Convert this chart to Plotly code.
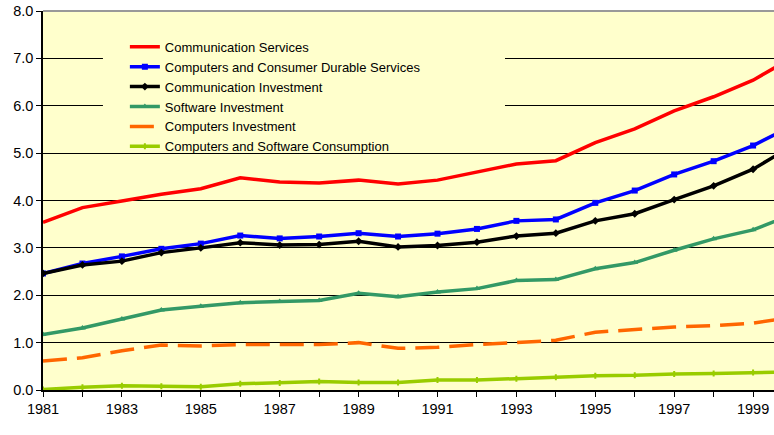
import plotly.graph_objects as go

years = list(range(1981, 2001))

comm_services = [3.54, 3.85, 3.99, 4.13, 4.25, 4.48, 4.39, 4.37, 4.43, 4.35,
                 4.43, 4.60, 4.77, 4.84, 5.22, 5.51, 5.89, 6.19, 6.54, 7.02]
comp_durable = [2.46, 2.67, 2.82, 2.98, 3.09, 3.26, 3.20, 3.24, 3.31, 3.24,
                3.30, 3.40, 3.57, 3.60, 3.95, 4.21, 4.55, 4.83, 5.16, 5.58]
comm_invest = [2.46, 2.64, 2.72, 2.90, 3.00, 3.11, 3.06, 3.07, 3.14, 3.02,
               3.05, 3.12, 3.25, 3.31, 3.57, 3.72, 4.02, 4.31, 4.66, 5.16]
soft_invest = [1.17, 1.31, 1.50, 1.69, 1.77, 1.84, 1.87, 1.89, 2.04, 1.97,
               2.07, 2.14, 2.31, 2.33, 2.56, 2.69, 2.95, 3.19, 3.38, 3.71]
comp_invest = [0.61, 0.68, 0.83, 0.95, 0.93, 0.96, 0.96, 0.96, 1.00, 0.88,
               0.90, 0.96, 1.00, 1.05, 1.22, 1.27, 1.33, 1.36, 1.41, 1.54]
comp_soft_cons = [0.01, 0.06, 0.09, 0.08, 0.07, 0.13, 0.15, 0.18, 0.16, 0.16,
                  0.21, 0.21, 0.24, 0.27, 0.30, 0.31, 0.34, 0.35, 0.37, 0.38]

y_ticks = [0, 1, 2, 3, 4, 5, 6, 7, 8]

BG = "#FFFFCC"

series = [
    ("Communication Services", comm_services, "#FF0000", "solid", None, 0),
    ("Computers and Consumer Durable Services", comp_durable, "#0000FF", "solid", "square", 6),
    ("Communication Investment", comm_invest, "#000000", "solid", "diamond", 6),
    ("Software Investment", soft_invest, "#339966", "solid", "triangle-up", 6),
    ("Computers Investment", comp_invest, "#FF6600", "dash", None, 0),
    ("Computers and Software Consumption", comp_soft_cons, "#99CC00", "solid", "cross", 5),
]

fig = go.Figure()
for name, vals, color, dash, symbol, msize in series:
    fig.add_trace(go.Scatter(
        x=years, y=vals, name=name,
        mode="lines+markers" if symbol else "lines",
        line=dict(color=color, width=3.5, dash="24px,10px" if dash == "dash" else dash),
        marker=dict(symbol=symbol or "circle", size=msize, color=color),
    ))

# yellow patch behind the legend hides the gridlines like the original
fig.add_shape(type="rect", xref="paper", yref="paper",
              x0=0.082, x1=0.632, y0=0.66, y1=0.945,
              fillcolor=BG, line_width=0, layer="above")
fig.add_shape(type="line", xref="paper", yref="paper",
              x0=0, x1=1, y0=1, y1=1, line=dict(color="#999999", width=2))

fig.update_layout(
    width=774, height=435,
    paper_bgcolor="white", plot_bgcolor=BG,
    margin=dict(l=43, r=0, t=11, b=45),
    font=dict(family="Liberation Sans, Arial", color="black", size=14),
    showlegend=True,
    legend=dict(x=0.112, y=0.945, xanchor="left", yanchor="top",
                bgcolor="rgba(0,0,0,0)", font=dict(size=13),
                tracegroupgap=0, itemwidth=30),
)
fig.update_xaxes(range=[1981, 1999.53], dtick=2, tick0=1981,
                 showgrid=False, zeroline=False,
                 showline=True, linecolor="black", linewidth=1.5,
                 ticks="outside", ticklen=5, tickcolor="black",
                 minor=dict(dtick=1, ticks="outside", ticklen=5, tickcolor="black"),
                 tickfont=dict(size=14.5))
fig.update_yaxes(range=[0, 8], tickvals=y_ticks, tickformat=".1f",
                 showgrid=True, gridcolor="black", gridwidth=1, zeroline=False,
                 showline=True, linecolor="black", linewidth=1.5,
                 ticks="outside", ticklen=5, tickcolor="black",
                 tickfont=dict(size=14.5))

# the page's default body margin would shift the chart by 8px
fig.write_html("out.html", config={"displayModeBar": False},
               post_script="document.body.style.margin='0';")
